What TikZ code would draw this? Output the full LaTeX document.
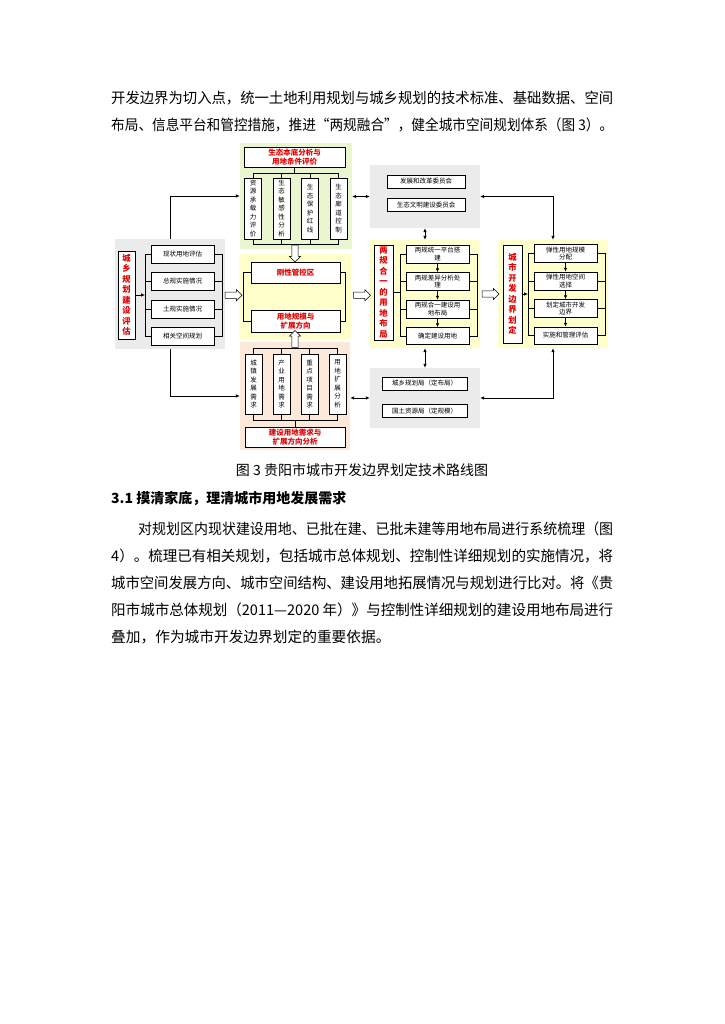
\documentclass[tikz,border=0pt]{standalone}
\usepackage{fontspec}
\setmainfont{Noto Sans CJK SC}
\usepackage{xcolor}
\usepackage{graphicx}
\usetikzlibrary{arrows.meta,positioning,calc,shapes.arrows,shadows}
\XeTeXlinebreaklocale "zh"
\XeTeXlinebreakskip=0pt plus 2pt
\definecolor{panelgray}{RGB}{235,235,235}
\definecolor{greenbg}{RGB}{233,246,208}
\definecolor{yellowbg}{RGB}{255,255,204}
\definecolor{peachbg}{RGB}{252,233,218}
\definecolor{titlered}{RGB}{226,0,0}
\newcommand{\bodyfont}{\fontsize{14.7}{18}\selectfont}
\newcommand{\boxfont}{\fontsize{6.5}{7.6}\selectfont}
\newcommand{\titlefont}{\fontsize{7.5}{9}\selectfont\bfseries}
\newcommand{\vtitlefont}{\fontsize{8.3}{10.5}\selectfont\bfseries}
\newcommand{\fitline}[2]{\resizebox{#1}{\height}{#2}}

\begin{document}
\begin{tikzpicture}[x=1pt, y=-1pt, >={Latex[length=4pt,width=3.5pt]},
  line/.style={anchor=west, inner sep=0pt, font=\bodyfont},
  panel/.style={rectangle, inner sep=0pt},
  box/.style={rectangle, draw, fill=white, line width=0.5pt, inner sep=1pt,
              align=center, font=\boxfont,
              drop shadow={shadow xshift=0.8pt, shadow yshift=-0.8pt, fill=black!50}},
  vbox/.style={box, text width=7pt, minimum width=17pt, minimum height=61pt,
               font=\fontsize{6.5}{8.5}\selectfont},
  titlebox/.style={box, text=titlered, font=\titlefont, inner sep=0.5pt},
  redbox/.style={box, text=titlered, font=\vtitlefont, text width=9pt,
                 minimum width=19pt, inner sep=0pt},
  hollow/.style={single arrow, draw, fill=white, line width=0.5pt,
                 minimum height=17pt, minimum width=11pt, inner sep=2.8pt,
                 single arrow head extend=2.5pt},
  wire/.style={line width=0.7pt}]

  \fill[white] (0,0) rectangle (724,1024);
  \useasboundingbox (0,0) rectangle (724,1024);

  % Text above
  \node[line] (p1a) at (111,98) {\fitline{502pt}{开发边界为切入点，统一土地利用规划与城乡规划的技术标准、基础数据、空间}};
  \node[line] (p1b) at (111,125) {\fitline{502pt}{布局、信息平台和管控措施，推进“两规融合”，健全城市空间规划体系（图 3）。}};

  % Evaluation
  \node[panel, fill=panelgray, minimum width=110pt, minimum height=110pt] (evalbg) at (170,294) {};
  \node[redbox, minimum width=17pt, minimum height=88pt] (eval) at (126.5,295) {城乡规划建设评估};
  \node[box, minimum width=63pt, minimum height=18pt] (e1) at (182.5,254) {现状用地评估};
  \node[box, minimum width=63pt, minimum height=18pt, below=9pt of e1] (e2) {总规实施情况};
  \node[box, minimum width=63pt, minimum height=18pt, below=9pt of e2] (e3) {土规实施情况};
  \node[box, minimum width=63pt, minimum height=18pt, below=9pt of e3] (e4) {相关空间规划};
  \coordinate (eL) at (145,0);
  \coordinate (eR) at (222,0);

  % Ecology
  \node[panel, fill=greenbg, minimum width=112pt, minimum height=106pt] (ecobg) at (296,196) {};
  \node[titlebox, minimum width=101pt, minimum height=20pt] (eco) at (294.5,157) {生态本底分析与\\用地条件评价};
  \node[vbox] (g1) at (253,208.5) {资源承载力评价};
  \node[vbox, right=11pt of g1] (g2) {生态敏感性分析};
  \node[vbox, right=11pt of g2] (g3) {生态保护红线};
  \node[vbox, right=11pt of g3] (g4) {生态廊道控制};
  \coordinate (gtop) at (0,173);
  \coordinate (gbot) at (0,244);

  % Core
  \node[panel, fill=yellowbg, minimum width=112pt, minimum height=85pt] (corebg) at (295,296.5) {};
  \node[titlebox, minimum width=89pt, minimum height=21pt] (rigid) at (295.5,272.5) {刚性管控区};
  \node[titlebox, minimum width=89pt, minimum height=22pt] (scale) at (295.5,321) {用地规模与\\扩展方向};
  \coordinate (cL) at (243,0);
  \coordinate (cR) at (345,0);

  % Demand
  \node[panel, fill=peachbg, minimum width=110pt, minimum height=108pt] (needbg) at (295,396) {};
  \node[vbox, minimum height=60pt] (n1) at (253.5,384) {城镇发展需求};
  \node[vbox, minimum height=60pt, right=10.5pt of n1] (n2) {产业用地需求};
  \node[vbox, minimum height=60pt, right=10.5pt of n2] (n3) {重点项目需求};
  \node[vbox, minimum height=60pt, right=10.5pt of n3] (n4) {用地扩展分析};
  \node[titlebox, minimum width=100pt, minimum height=20pt] (need) at (295,437) {建设用地需求与\\扩展方向分析};
  \coordinate (ntop) at (0,348);
  \coordinate (nbot) at (0,420);

  % Departments
  \node[panel, fill=panelgray, minimum width=110pt, minimum height=63pt] (deptbg) at (425,196.5) {};
  \node[box, minimum width=78pt, minimum height=13pt] (ndrc) at (426,181.5) {发展和改革委员会};
  \node[box, minimum width=78pt, minimum height=13pt, below=10pt of ndrc] (eccw) {生态文明建设委员会};

  % Two plans in one
  \node[panel, fill=yellowbg, minimum width=110pt, minimum height=108pt] (mergebg) at (425,294) {};
  \node[redbox, minimum height=95pt] (merge) at (383.5,292.5) {两规合一的用地布局};
  \node[box, minimum width=63pt, minimum height=18pt] (m1) at (437.5,254) {两规统一平台搭\\建};
  \node[box, minimum width=63pt, minimum height=18pt, below=9pt of m1] (m2) {两规差异分析处\\理};
  \node[box, minimum width=63pt, minimum height=18pt, below=9pt of m2] (m3) {两规合一建设用\\地布局};
  \node[box, minimum width=63pt, minimum height=17pt, below=9pt of m3] (m4) {确定建设用地};
  \coordinate (mL) at (400,0);
  \coordinate (mR) at (477,0);

  % Bureaus
  \node[panel, fill=panelgray, minimum width=110pt, minimum height=60pt] (bureaubg) at (425,398) {};
  \node[box, minimum width=85pt, minimum height=13pt] (urban) at (424.5,383.5) {城乡规划局（定布局）};
  \node[box, minimum width=85pt, minimum height=13pt, below=14pt of urban] (land) {国土资源局（定规模）};

  % Boundary
  \node[panel, fill=yellowbg, minimum width=110pt, minimum height=108pt] (boundbg) at (553,294) {};
  \node[redbox, minimum height=98pt] (bound) at (512.5,294) {城市开发边界划定};
  \node[box, minimum width=63pt, minimum height=18pt] (r1) at (565.5,253.5) {弹性用地规模\\分配};
  \node[box, minimum width=63pt, minimum height=18pt, below=9pt of r1] (r2) {弹性用地空间\\选择};
  \node[box, minimum width=63pt, minimum height=18pt, below=9pt of r2] (r3) {划定城市开发\\边界};
  \node[box, minimum width=63pt, minimum height=17pt, below=9pt of r3] (r4) {实施和管理评估};
  \coordinate (rL) at (528,0);
  \coordinate (rR) at (605,0);

  % Brackets
  \draw[wire] (e1.west) -- (e1.west -| eL) -- (e4.west -| eL) -- (e4.west);
  \draw[wire] (e2.west) -- (e2.west -| eL) (e3.west) -- (e3.west -| eL);
  \draw[wire] (e1.east) -- (e1.east -| eR) -- (e4.east -| eR) -- (e4.east);
  \draw[wire] (e2.east) -- (e2.east -| eR) (e3.east) -- (e3.east -| eR);
  \draw[wire, ->] (eval.east) -- (eval.east -| eL);

  \draw[wire] (eco.south) -- (eco.south |- gtop);
  \draw[wire] (g1.north) -- (g1.north |- gtop) -- (g4.north |- gtop) -- (g4.north);
  \draw[wire] (g2.north) -- (g2.north |- gtop) (g3.north) -- (g3.north |- gtop);
  \draw[wire] (g1.south) -- (g1.south |- gbot) -- (g4.south |- gbot) -- (g4.south);
  \draw[wire] (g2.south) -- (g2.south |- gbot) (g3.south) -- (g3.south |- gbot);

  \draw[wire] (rigid.west) -- (rigid.west -| cL) -- (scale.west -| cL) -- (scale.west);
  \draw[wire] (rigid.east) -- (rigid.east -| cR) -- (scale.east -| cR) -- (scale.east);

  \draw[wire] (n1.north) -- (n1.north |- ntop) -- (n4.north |- ntop) -- (n4.north);
  \draw[wire] (n2.north) -- (n2.north |- ntop) (n3.north) -- (n3.north |- ntop);
  \draw[wire] (n1.south) -- (n1.south |- nbot) -- (n4.south |- nbot) -- (n4.south);
  \draw[wire] (n2.south) -- (n2.south |- nbot) (n3.south) -- (n3.south |- nbot);
  \draw[wire] (need.north |- nbot) -- (need.north);

  \draw[wire] (m1.west) -- (m1.west -| mL) -- (m4.west -| mL) -- (m4.west);
  \draw[wire] (m2.west) -- (m2.west -| mL) (m3.west) -- (m3.west -| mL);
  \draw[wire] (m1.east) -- (m1.east -| mR) -- (m4.east -| mR) -- (m4.east);
  \draw[wire] (m2.east) -- (m2.east -| mR) (m3.east) -- (m3.east -| mR);
  \draw[wire] (merge.east) -- (merge.east -| mL);

  \draw[wire] (r1.west) -- (r1.west -| rL) -- (r4.west -| rL) -- (r4.west);
  \draw[wire] (r2.west) -- (r2.west -| rL) (r3.west) -- (r3.west -| rL);
  \draw[wire] (r1.east) -- (r1.east -| rR) -- (r4.east -| rR) -- (r4.east);
  \draw[wire] (r2.east) -- (r2.east -| rR) (r3.east) -- (r3.east -| rR);
  \draw[wire, ->] (bound.east) -- (bound.east -| rL);

  % Steps
  \draw[wire, ->] (m1) -- (m2);
  \draw[wire, ->] (m2) -- (m3);
  \draw[wire, ->] (m3) -- (m4);
  \draw[wire, ->] (r1) -- (r2);
  \draw[wire, ->] (r2) -- (r3);
  \draw[wire, ->] (r3) -- (r4);

  % Arrows
  \draw[wire, ->] (evalbg.north) |- (ecobg.west);
  \draw[wire, ->] (evalbg.south) |- (needbg.west);
  \draw[wire, <->] (ecobg.east |- deptbg.west) -- (deptbg.west);
  \draw[wire, <->] (deptbg.east) -| (boundbg.north);
  \draw[wire, <->] (deptbg.south) -- (mergebg.north);
  \draw[wire, <->] (mergebg.south) -- (bureaubg.north);
  \draw[wire, <->] (needbg.east |- bureaubg.west) -- (bureaubg.west);
  \draw[wire, <->] (bureaubg.east) -| (boundbg.south);

  \node[hollow] (h1) at ($(evalbg.east)!0.5!(corebg.west)$) {};
  \node[hollow] (h2) at ($(corebg.east)!0.5!(mergebg.west)$) {};
  \node[hollow] (h3) at ($(mergebg.east)!0.5!(boundbg.west)$) {};
  \node[hollow, shape border rotate=270] (h4) at (295,252) {};
  \node[hollow, shape border rotate=90] (h5) at (295,340.5) {};

  % Text below
  \node[inner sep=0pt, font=\fontsize{14}{17}\selectfont] (cap) at (362,470) {图 3 贵阳市城市开发边界划定技术路线图};
  \node[anchor=west, inner sep=0pt, font=\fontsize{14}{17}\selectfont\bfseries] (sec) at (111,499) {3.1 摸清家底，理清城市用地发展需求};
  \node[line] (p2a) at (138,529) {\fitline{475pt}{对规划区内现状建设用地、已批在建、已批未建等用地布局进行系统梳理（图}};
  \node[line] (p2b) at (111,556) {\fitline{502pt}{4）。梳理已有相关规划，包括城市总体规划、控制性详细规划的实施情况，将}};
  \node[line] (p2c) at (111,583) {\fitline{502pt}{城市空间发展方向、城市空间结构、建设用地拓展情况与规划进行比对。将《贵}};
  \node[line] (p2d) at (111,610) {\fitline{502pt}{阳市城市总体规划（2011—2020 年）》与控制性详细规划的建设用地布局进行}};
  \node[line] (p2e) at (111,637) {叠加，作为城市开发边界划定的重要依据。};
\end{tikzpicture}
\end{document}
